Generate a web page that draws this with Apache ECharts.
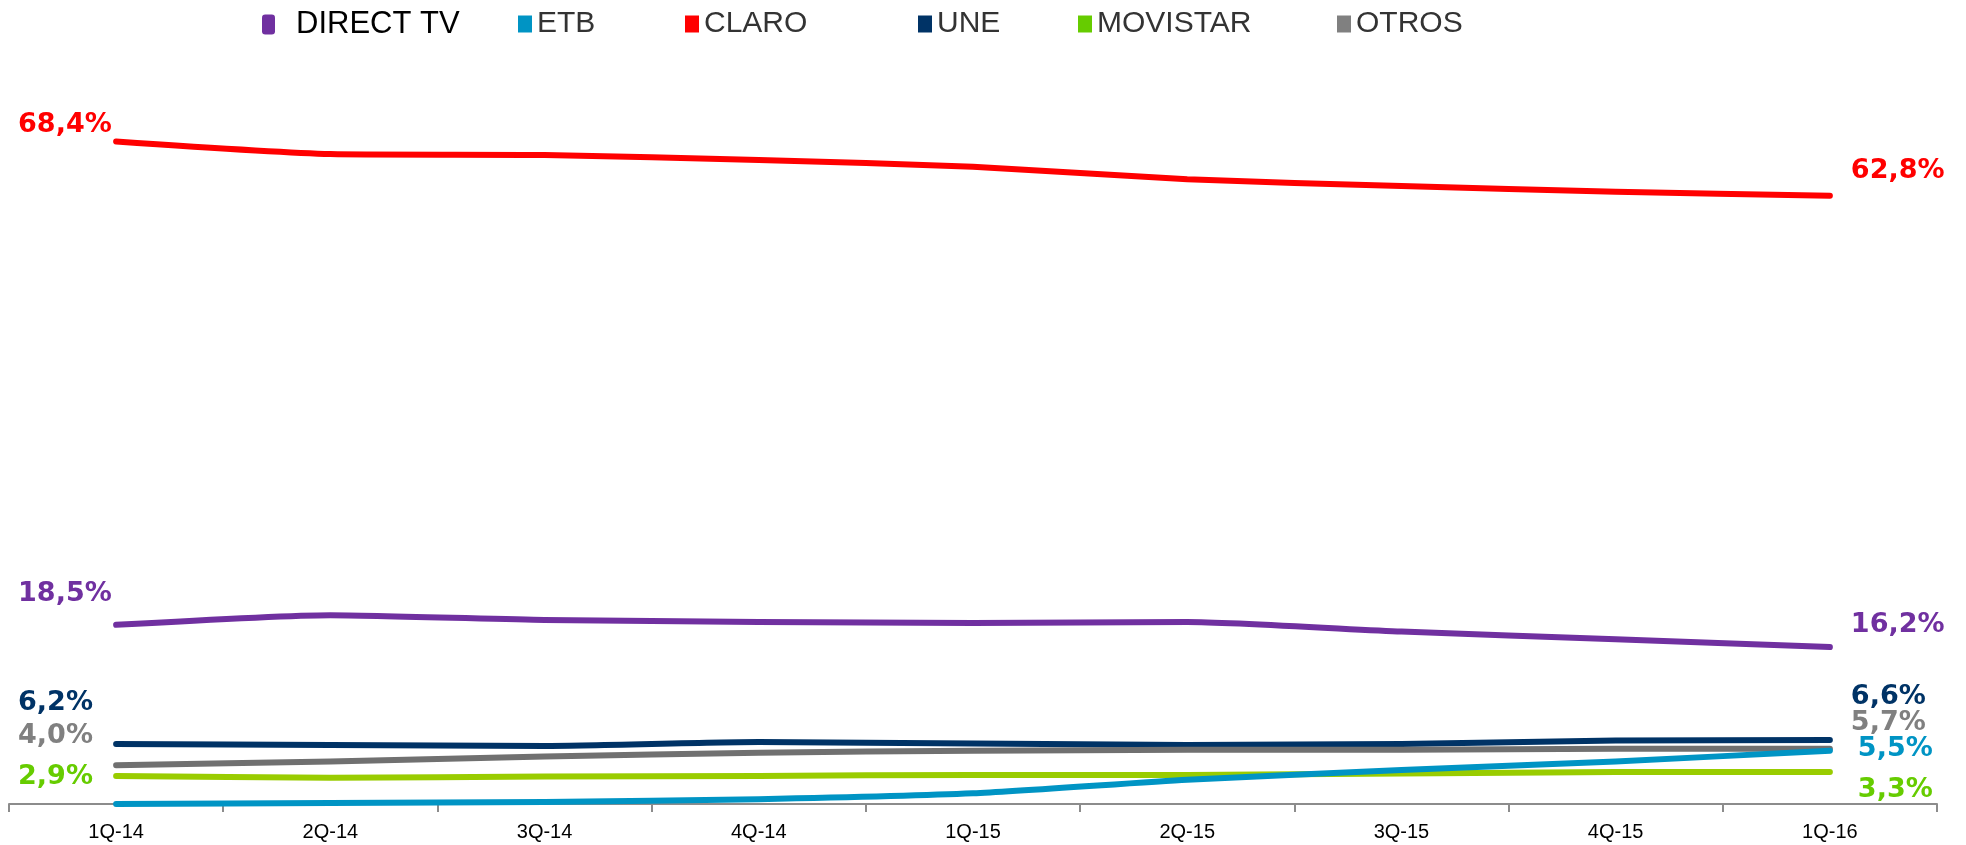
<!DOCTYPE html>
<html>
<head>
<meta charset="utf-8">
<script src="https://cdn.jsdelivr.net/npm/echarts@6/dist/echarts.min.js"></script>
<style>
  html, body { margin: 0; padding: 0; background: #fff; }
  #share { width: 1966px; height: 845px; }
</style>
</head>
<body>
<div id="share"></div>
<script>
// datos del grafico
var quarters = ['1Q-14', '2Q-14', '3Q-14', '4Q-14', '1Q-15', '2Q-15', '3Q-15', '4Q-15', '1Q-16'];

var directTv = [18.5, 19.5, 19.0, 18.8, 18.7, 18.8, 17.8, 17.0, 16.2];
var etb      = [0.0, 0.1, 0.2, 0.5, 1.1, 2.5, 3.5, 4.4, 5.5];
var claro    = [68.4, 67.1, 67.0, 66.5, 65.8, 64.5, 63.8, 63.2, 62.8];
var une      = [6.2, 6.1, 6.0, 6.4, 6.25, 6.1, 6.2, 6.55, 6.6];
var movistar = [2.9, 2.7, 2.85, 2.9, 3.0, 3.0, 3.15, 3.3, 3.3];
var otros    = [4.0, 4.4, 4.9, 5.3, 5.5, 5.6, 5.6, 5.7, 5.7];

function pct(v) {
  return v.toFixed(1).replace('.', ',') + '%';
}

// solo primer y ultimo punto llevan etiqueta
function buildData(values, labelColor, leftPos, rightPos) {
  return values.map(function (v, i) {
    var item = { value: v };
    var pos = null;
    if (i === 0) pos = leftPos;
    if (i === values.length - 1) pos = rightPos;
    if (pos) {
      item.label = {
        show: true,
        position: pos,
        align: 'left',
        verticalAlign: 'middle',
        color: labelColor,
        fontFamily: 'DejaVu Sans',
        fontWeight: 'bold',
        fontSize: 27,
        formatter: function (p) { return pct(p.value); }
      };
    }
    return item;
  });
}

function makeSeries(name, values, lineColor, labelColor, leftPos, rightPos, z) {
  return {
    name: name,
    type: 'line',
    z: z,
    smooth: 0.2,
    symbol: 'circle',
    symbolSize: 0.1,
    showSymbol: true,
    itemStyle: { color: lineColor },
    lineStyle: { color: lineColor, width: 6, cap: 'round', join: 'round' },
    label: { show: false },
    emphasis: { disabled: true },
    data: buildData(values, labelColor, leftPos, rightPos)
  };
}

function makeLegend(name, left, color, opts) {
  opts = opts || {};
  return {
    left: left,
    top: opts.top || 4,
    data: [{ name: name, icon: opts.icon || 'rect', itemStyle: { color: color } }],
    itemWidth: opts.itemWidth || 14,
    itemHeight: opts.itemHeight || 17,
    selectedMode: false,
    textStyle: {
      color: opts.textColor || '#333',
      fontFamily: 'Liberation Sans',
      fontSize: opts.fontSize || 30,
      padding: opts.textPadding || [0, 0, 0, 0]
    }
  };
}

var shareChart = echarts.init(document.getElementById('share'), null, {
  renderer: 'canvas',
  width: 1966,
  height: 845
});

var shareOption = {
  backgroundColor: '#fff',
  animation: false,
  legend: [
    makeLegend('DIRECT TV', 257, '#7030A0', { icon: 'roundRect', itemWidth: 13, itemHeight: 20, textColor: '#000', fontSize: 31, textPadding: [0, 0, 0, 16], top: 4 }),
    makeLegend('ETB', 513, '#0094C4'),
    makeLegend('CLARO', 680, '#FF0000'),
    makeLegend('UNE', 913, '#003366'),
    makeLegend('MOVISTAR', 1073, '#66CC00'),
    makeLegend('OTROS', 1332, '#808080')
  ],
  grid: {
    left: 9,
    right: 29,
    top: 126,
    bottom: 41,
    containLabel: false
  },
  xAxis: {
    type: 'category',
    boundaryGap: true,
    data: quarters,
    axisLine: { lineStyle: { color: '#8c8c8c', width: 2 } },
    axisTick: { show: true, length: 8, lineStyle: { color: '#8c8c8c', width: 2 } },
    axisLabel: {
      interval: 0,
      margin: 18,
      color: '#000',
      fontFamily: 'Liberation Sans',
      fontSize: 20
    }
  },
  yAxis: {
    type: 'value',
    min: 0,
    max: 70,
    show: false,
    splitLine: { show: false }
  },
  series: [
    makeSeries('DIRECT TV', directTv, '#7030A0', '#7030A0', [-98, -31], [21, -22], 5),
    makeSeries('ETB', etb, '#0094C4', '#0094C4', null, [28, -2], 4),
    makeSeries('CLARO', claro, '#FF0000', '#FF0000', [-98, -16], [21, -25], 6),
    makeSeries('UNE', une, '#003366', '#003366', [-98, -41], [21, -43], 3),
    makeSeries('MOVISTAR', movistar, '#99CC00', '#66CC00', [-98, 1], [28, 18], 2),
    makeSeries('OTROS', otros, '#707070', '#808080', [-98, -29], [21, -26], 3)
  ]
};

shareChart.setOption(shareOption);
</script>
</body>
</html>
